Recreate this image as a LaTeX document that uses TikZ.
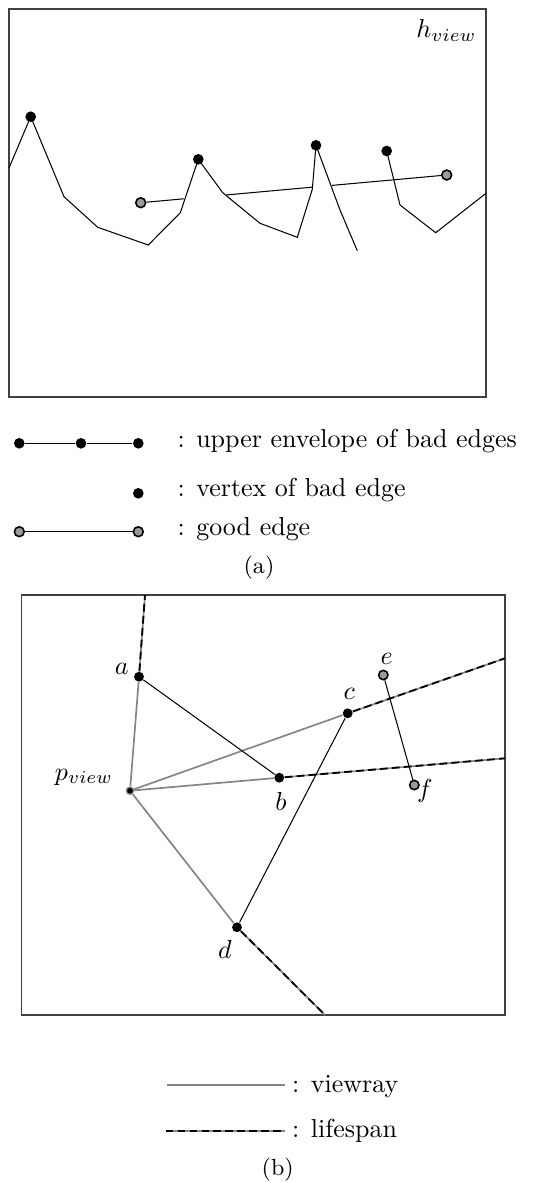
\documentclass[tikz,border=0pt]{standalone}
\usetikzlibrary{positioning,calc}
\definecolor{raygray}{HTML}{858585}
\definecolor{ptgray}{HTML}{9A9A9A}
\tikzset{
  badpt/.style={circle, fill=black, inner sep=0pt, minimum size=#1},
  badpt/.default=4.1pt,
  goodpt/.style={circle, draw=black, line width=0.6pt, fill=ptgray, inner sep=0pt, minimum size=#1},
  goodpt/.default=3.8pt,
  viewpt/.style={circle, draw=raygray, line width=0.5pt, fill=black, inner sep=0pt, minimum size=2.8pt},
  viewray/.style={draw=raygray, line width=0.65pt},
  lifespan/.style={draw=raygray, line width=0.65pt,
                   postaction={draw=black, dash pattern=on 3pt off 1.6pt, line width=0.7pt}},
  segline/.style={draw=black, line width=0.4pt},
  boxframe/.style={draw=black!75, line width=0.5pt},
  lbl/.style={inner sep=0pt, anchor=base},
  legtext/.style={inner sep=0pt, anchor=base west},
}

\begin{document}
\begin{tikzpicture}[x=0.385pt, y=-0.385pt]
  \useasboundingbox (0,0) rectangle (560,1183);

  % (a)
  \draw[boxframe] (9,9) rectangle (486,397);
  \node[inner sep=0pt, anchor=base east] (hv) at (477,37.7) {$h_{view}$};

  \node[badpt] (pk1) at (30.7,116.7) {};
  \node[badpt] (pk2) at (198.3,159.3) {};
  \node[badpt] (pk3) at (316,145.3) {};
  \node[badpt] (pk4) at (386.7,151) {};
  \node[goodpt] (g1) at (140.7,202.7) {};
  \node[goodpt] (g2) at (446.7,175) {};

  \draw[segline] (9,168) -- (pk1.center) -- (64,196.7) -- (97.7,227.3) -- (148.3,245)
    -- (180.3,212.7) -- (pk2.center) -- (222.7,192.7) -- (260,223.3) -- (297.3,237.3)
    -- (312.3,189.3) -- (pk3.center) -- (340,210) -- (357.3,250.7);
  \draw[segline] (pk4.center) -- (400,205) -- (435.7,232.7) -- (486,193.3);

  \coordinate (h1) at ($(g1)!0.141!(g2)$);
  \coordinate (h2) at ($(g1)!0.279!(g2)$);
  \coordinate (h3) at ($(g1)!0.561!(g2)$);
  \coordinate (h4) at ($(g1)!0.625!(g2)$);
  \draw[segline] (g1) -- (h1);
  \draw[segline] (h2) -- (h3);
  \draw[segline] (h4) -- (g2);

  \node[badpt] (l1) at (19.3,443.3) {};
  \node[badpt] (l2) at (81,443.3) {};
  \node[badpt] (l3) at (138.3,443.3) {};
  \draw[segline] (l1) -- (l2) -- (l3);
  \node[legtext] (t1) at (177,447.7) {: upper envelope of bad edges};

  \node[badpt] (l4) at (138.3,493.3) {};
  \node[legtext] (t2) at (177,496.7) {: vertex of bad edge};

  \node[goodpt] (l5) at (19.3,531.7) {};
  \node[goodpt] (l6) at (138.3,531.7) {};
  \draw[segline] (l5) -- (l6);
  \node[legtext] (t3) at (177,535) {: good edge};

  \node[lbl] (capa) at (259,573.3) {\small (a)};

  % (b)
  \draw[boxframe] (21.7,595) rectangle (505,1015);

  \coordinate (atop) at (145,595);
  \coordinate (cend) at (505,658.3);
  \coordinate (bend) at (505,758.3);
  \coordinate (dend) at (325,1015);

  \node[viewpt] (pv) at (130,790.7) {};
  \node[badpt=3.8pt] (a) at (139,676.7) {};
  \node[badpt=3.8pt] (b) at (279.3,777.7) {};
  \node[badpt=3.8pt] (c) at (347.7,713.3) {};
  \node[badpt=3.8pt] (d) at (237,927.3) {};
  \node[goodpt=3.6pt] (e) at (383.3,675) {};
  \node[goodpt=3.6pt] (f) at (414.3,785) {};

  \draw[viewray] (pv) -- (a);
  \draw[viewray] (pv) -- (b);
  \draw[viewray] (pv) -- (c);
  \draw[viewray] (pv) -- (d);
  \draw[lifespan] (a) -- (atop);
  \draw[lifespan] (b) -- (bend);
  \draw[lifespan] (c) -- (cend);
  \draw[lifespan] (d) -- (dend);
  \draw[segline] (a) -- (b);
  \draw[segline] (c) -- (d);
  \draw[segline] (e) -- (f);

  \node[lbl] (la) at (121.7,674.3) {$a$};
  \node[lbl] (lb) at (281,810) {$b$};
  \node[lbl] (lc) at (349.3,699) {$c$};
  \node[lbl] (ld) at (225,958.3) {$d$};
  \node[lbl] (le) at (386.7,664) {$e$};
  \node[lbl] (lf) at (425,797) {$f$};
  \node[lbl] (lpv) at (84,780) {$p_{view}$};

  \coordinate (vr1) at (166.7,1085);
  \coordinate (vr2) at (285,1085);
  \coordinate (ls1) at (165.7,1131);
  \coordinate (ls2) at (285,1131);
  \draw[viewray] (vr1) -- (vr2);
  \draw[lifespan] (ls1) -- (ls2);
  \node[legtext] (t4) at (291.7,1092.3) {: viewray};
  \node[legtext] (t5) at (291.7,1137.3) {: lifespan};

  \node[lbl] (capb) at (277.7,1175.7) {\small (b)};
\end{tikzpicture}
\end{document}
